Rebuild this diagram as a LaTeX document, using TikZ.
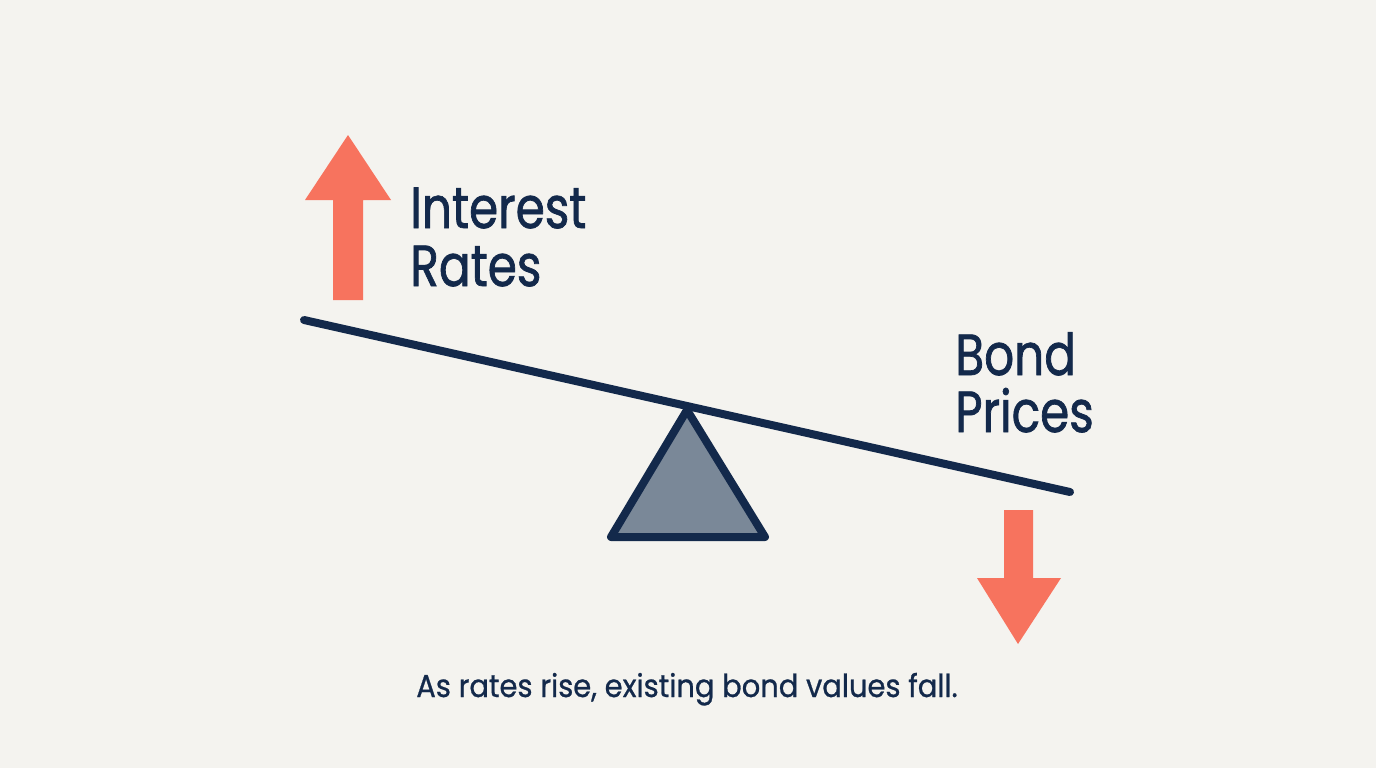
\documentclass[tikz,border=0pt]{standalone}
\usepackage{fontspec}
\setmainfont{Poppins}
\newfontfamily\lblfont{Poppins}[FakeStretch=0.81, FakeBold=1.2]
\newfontfamily\capfont{Poppins}[FakeStretch=0.915, FakeBold=0.8]
\definecolor{bgc}{HTML}{F4F3EF}
\definecolor{navy}{HTML}{13294B}
\definecolor{coral}{HTML}{F7735E}
\definecolor{slate}{HTML}{7A8898}
\tikzset{
  lbl/.style={anchor=base west, inner sep=0pt, text=navy, font=\lblfont\fontsize{33}{33}\selectfont},
  captext/.style={anchor=base, inner sep=0pt, text=navy, font=\capfont\fontsize{18}{18}\selectfont},
  beam/.style={draw=navy, line width=0.16cm, line cap=round},
  fulcrum/.style={draw=navy, fill=slate, line width=0.16cm, line join=round},
  arr/.style={fill=coral, draw=none}
}
\begin{document}
\begin{tikzpicture}[x=0.02cm,y=-0.02cm]
\useasboundingbox[fill=bgc] (0,0) rectangle (1376,768);
% up arrow
\fill[arr] (333,300) -- (333,200) -- (305,200) -- (348,135) -- (391,200) -- (363,200) -- (363,300) -- cycle;
% down arrow
\fill[arr] (1004,510) -- (1004,578) -- (977,578) -- (1018,644) -- (1061,578) -- (1033,578) -- (1033,510) -- cycle;
% fulcrum
\draw[fulcrum] (687,410) -- (765,537) -- (611,537) -- cycle;
% beam
\coordinate (bl) at (304,320);
\coordinate (br) at (1070,492);
\draw[beam] (bl) -- (br);
% labels
\node[lbl] (ir1) at (410,228) {Interest};
\node[lbl] (ir2) at (410,286) {Rates};
\node[lbl] (bp1) at (955,375) {Bond};
\node[lbl] (bp2) at (955,432) {Prices};
\node[captext] (caption) at (687,697) {As rates rise, existing bond values fall.};
\end{tikzpicture}
\end{document}
